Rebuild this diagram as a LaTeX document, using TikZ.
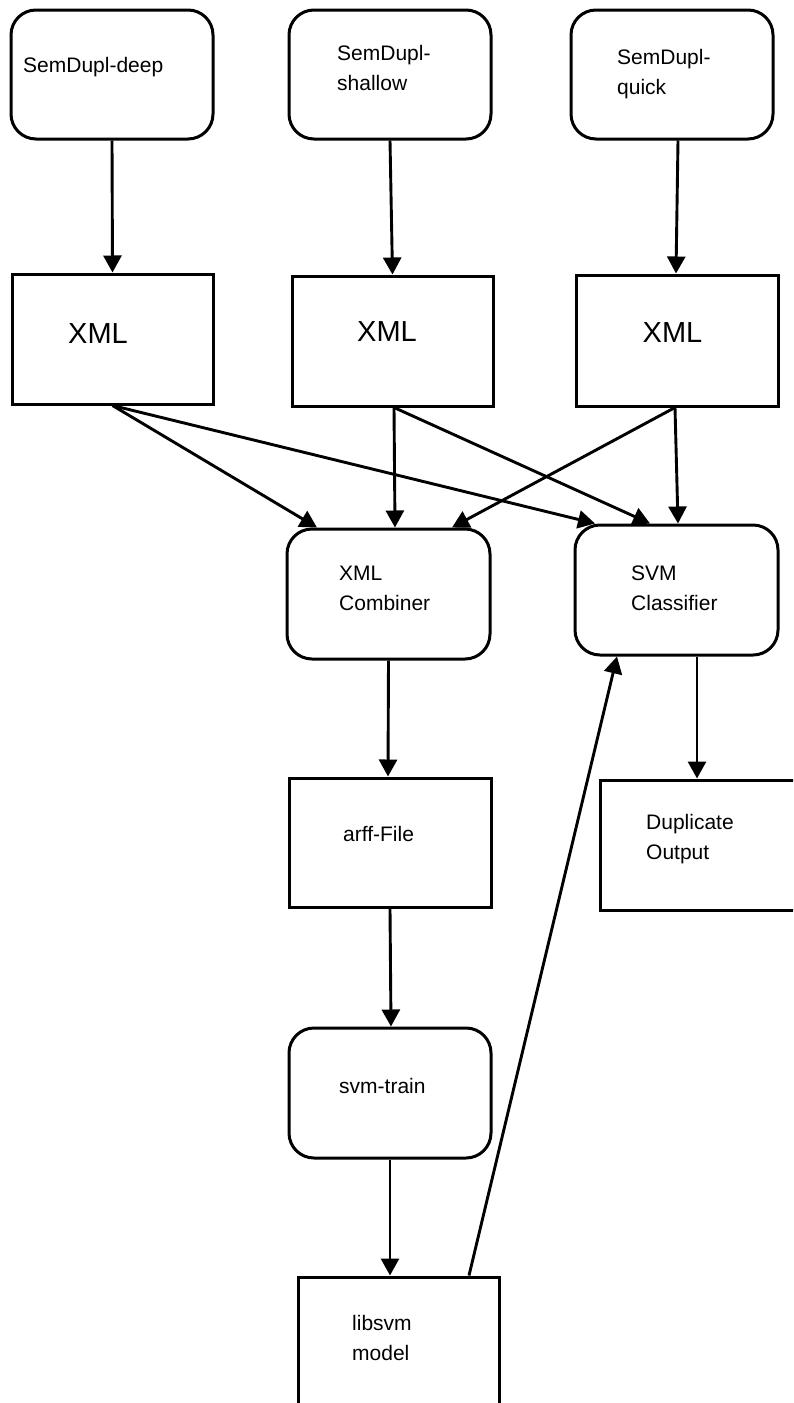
\documentclass[tikz,border=0pt]{standalone}
\usepackage{fontspec}
\setmainfont{Liberation Sans}
\usetikzlibrary{arrows.meta}
\tikzset{
  box/.style={draw=black, line width=3pt, fill=white, inner sep=0pt},
  roundbox/.style={box, rounded corners=25pt},
  sqbox/.style={box},
  lbl/.style={inner sep=0pt, anchor=base west, align=left, font=\fontsize{21pt}{30pt}\selectfont},
  biglbl/.style={inner sep=0pt, anchor=base, font=\fontsize{29pt}{34pt}\selectfont},
  conn/.style={draw=black, line width=2.9pt, -{Triangle[length=17pt,width=18pt]}}
}
\begin{document}
\begin{tikzpicture}[x=1pt,y=-1pt]
\useasboundingbox (0,0) rectangle (793,1403);
\clip (0,0) rectangle (793,1403);
\fill[white] (0,0) rectangle (793,1403);

% boxes
\node[roundbox, minimum width=202pt, minimum height=129pt] (deep) at (112,74.5) {};
\node[roundbox, minimum width=202pt, minimum height=129pt] (shallow) at (390,74.5) {};
\node[roundbox, minimum width=202pt, minimum height=129pt] (quick) at (672,74.5) {};
\node[sqbox, minimum width=201pt, minimum height=130pt] (x1) at (112.5,339) {};
\node[sqbox, minimum width=201pt, minimum height=130pt] (x2) at (392.5,341) {};
\node[sqbox, minimum width=202pt, minimum height=131pt] (x3) at (677,340.5) {};
\node[roundbox, minimum width=203pt, minimum height=130pt] (comb) at (388.5,594) {};
\node[roundbox, minimum width=203pt, minimum height=130pt] (svm) at (676.5,590) {};
\node[sqbox, minimum width=202pt, minimum height=129pt] (arff) at (390,842.5) {};
\node[sqbox, minimum width=197pt, minimum height=130pt] (dup) at (698.5,845) {};
\node[roundbox, minimum width=202pt, minimum height=130pt] (train) at (390,1093) {};
\node[sqbox, minimum width=201pt, minimum height=140pt] (lib) at (398.5,1347) {};

% texts (multi-line: anchor at baseline of last line)
\node[lbl] (deep-t) at (23,72) {SemDupl-deep};
\node[lbl] (shallow-t) at (337,90) {SemDupl-\\shallow};
\node[lbl] (quick-t) at (617,94) {SemDupl-\\quick};
\node[biglbl] (x1-t) at (98,343) {XML};
\node[biglbl] (x2-t) at (387,341) {XML};
\node[biglbl] (x3-t) at (672.5,342) {XML};
\node[lbl] (comb-t) at (339,610.7) {XML\\Combiner};
\node[lbl] (svm-t) at (631,610) {SVM\\Classifier};
\node[lbl] (arff-t) at (343,841) {arff-File};
\node[lbl] (dup-t) at (646,859) {Duplicate\\Output};
\node[lbl] (train-t) at (339,1093) {svm-train};
\node[lbl] (lib-t) at (352,1360) {libsvm\\model};

% connectors
\draw[conn] (deep.south) -- (x1.north);
\draw[conn] (shallow.south) -- (x2.north);
\draw[conn] ([xshift=6pt]quick.south) -- ([xshift=-1pt]x3.north);
\draw[conn] (x1.south) -- ([xshift=-71.5pt]comb.north);
\draw[conn] (x1.south) -- ([xshift=-81.5pt]svm.north);
\draw[conn] ([xshift=1.5pt]x2.south) -- ([xshift=6.5pt]comb.north);
\draw[conn] ([xshift=1.5pt]x2.south) -- ([xshift=-26.5pt]svm.north);
\draw[conn] ([xshift=-2pt]x3.south) -- ([xshift=63.5pt]comb.north);
\draw[conn] ([xshift=-2pt]x3.south) -- ([xshift=1.5pt]svm.north);
\draw[conn] (comb.south) -- ([xshift=-2pt]arff.north);
\draw[conn] ([xshift=20.5pt]svm.south) -- ([xshift=-1.5pt]dup.north);
\draw[conn] (arff.south) -- ([xshift=1pt]train.north);
\draw[conn] (train.south) -- ([xshift=-8.5pt]lib.north);
\draw[conn] ([xshift=70.5pt]lib.north) -- ([xshift=-59.5pt]svm.south);
\end{tikzpicture}
\end{document}
